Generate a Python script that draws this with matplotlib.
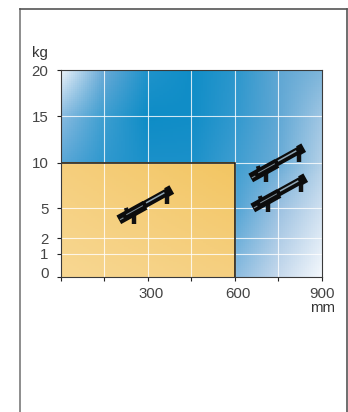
import numpy as np
import matplotlib
matplotlib.use("Agg")
import matplotlib.pyplot as plt
from matplotlib.colors import to_rgb
from matplotlib.lines import Line2D
from matplotlib.transforms import Affine2D, ScaledTranslation

plt.rcParams['font.family'] = ['Liberation Sans', 'DejaVu Sans']

W, H = 348, 412
# axis readings
x_ticks = [0, 150, 300, 450, 600, 750, 900]
x_labels = ['', '', '300', '', '600', '', '900']
y_ticks = [0, 1, 2, 5, 10, 15, 20]
y_labels = ['0', '1', '2', '5', '10', '15', '20']
y_frac = [0, 23.0 / 207, 38.7 / 207, 69 / 207, 114.5 / 207, 160.7 / 207, 1]  # the axis is not linear
limit_x, limit_y = 600, 10          # orange zone
rail_x = [291, 745, 752]
rail_y = [5.3, 9.9, 6.6]

# hand-read background tints
blue_rows = [
    ['#f0f6fb', '#6aa9d6', '#1f93cb', '#0f8dc7', '#2a96cc', '#5fa6d3', '#7db5da'],
    ['#8bbbe0', '#3d9ed0', '#0d8cc6', '#108dc7', '#3098ce', '#5fa7d4', '#a0c6e3'],
    ['#5aa6d6', '#2f98ce', '#1a90c9', '#1a90c9', '#3d9dd0', '#68abd6', '#b3d0e7'],
    ['#5aa6d6', '#2f98ce', '#1a90c9', '#2a96cc', '#4fa3d4', '#9ac0e0', '#cfe0f0'],
    ['#5aa6d6', '#3d9ed0', '#3d9ed0', '#5fa7d4', '#8bbbdf', '#c6d9ec', '#f4f8fc'],
]
blue_row_frac = [1, 160.7 / 207, 114.5 / 207, 69 / 207, 0]
orange_corners = [['#f5ce7c', '#f2c561'], ['#f7d792', '#f5cf80']]


def fwd(v):
    return np.interp(v, y_ticks, y_frac)


def inv(f):
    return np.interp(f, y_frac, y_ticks)


def field(rows, fx, fy_desc, xs, ys):
    """Bilinear resampling of a coarse colour table; fy_desc runs top to bottom."""
    table = np.array([[to_rgb(c) for c in r] for r in rows])
    fy = np.array(fy_desc)[::-1]
    table = table[::-1]
    out = np.zeros((len(ys), len(xs), 3))
    for k in range(3):
        by_x = np.array([np.interp(xs, fx, table[i, :, k]) for i in range(table.shape[0])])
        for j in range(len(xs)):
            out[:, j, k] = np.interp(ys, fy, by_x[:, j])
    return out


fig = plt.figure(figsize=(W / 100, H / 100), dpi=100)
ax = fig.add_axes([60.5 / W, 1 - 277 / H, 261.5 / W, 207 / H])
ax.set_yscale('function', functions=(fwd, inv))
ax.set_xlim(0, 900)
ax.set_ylim(0, 20)

# blue background
gx = np.linspace(0, 1, 132)
gy = np.linspace(0, 1, 105)
img = field(blue_rows, np.linspace(0, 1, 7), blue_row_frac, gx, gy)
ax.pcolormesh(gx * 900, inv(gy), img, shading='auto', zorder=1, rasterized=True)

# orange zone
ox = np.linspace(0, 1, 90)
oy = np.linspace(0, 1, 60)
oimg = field(orange_corners, [0, 1], [1, 0], ox, oy)
top_f = fwd(limit_y)
ax.pcolormesh(ox * limit_x, inv(oy * top_f), oimg, shading='auto', zorder=2, rasterized=True)

# grid
for xv in x_ticks[1:-1]:
    ax.plot([xv, xv], [0, 20], color='white', lw=0.8, alpha=0.8, zorder=3, solid_capstyle='butt')
for yv in y_ticks[1:-1]:
    ax.plot([0, 900], [yv, yv], color='white', lw=0.8, alpha=0.8, zorder=3, solid_capstyle='butt')

# zone outline
ax.plot([0, limit_x, limit_x], [limit_y, limit_y, 0], color='#111111', lw=1.1, zorder=4,
        solid_joinstyle='miter')

# rail pictograms, offsets in pixels around a data anchor
angle = np.radians(29)
ca, sa = np.cos(angle), np.sin(angle)


def uv(u, v):
    return u * ca - v * sa, u * sa + v * ca


for rx, ry in zip(rail_x, rail_y):
    tr = Affine2D() + ScaledTranslation(rx, ry, ax.transData)

    def seg(p, q, lw, col, cap='butt', z=6):
        ax.add_line(Line2D([p[0], q[0]], [p[1], q[1]], transform=tr, color=col, lw=lw,
                           solid_capstyle=cap, zorder=z, clip_on=False))

    # feet
    f1 = uv(-14, -2)
    seg(f1, (f1[0], f1[1] - 10), 3.2, '#111111', 'butt', 5)
    f2 = uv(25, -1)
    seg(f2, (f2[0], f2[1] - 10), 3.2, '#111111', 'butt', 5)
    # bump
    seg(uv(-19, 2), uv(-18, 7), 3.0, '#111111', 'butt', 5)
    # body
    seg(uv(-30, 0), uv(0, 0), 7.0, '#0c0c0c')
    seg(uv(-1, 0.8), uv(27, 0.8), 5.4, '#0c0c0c')
    seg(uv(25, 0.8), uv(31, 0.8), 7.0, '#0c0c0c')
    # highlights
    seg(uv(-29, -0.5), uv(-25, -0.5), 0.8, '#7d8a92', 'butt', 7)
    seg(uv(-21, 0.8), uv(-2, 0.8), 0.7, '#7f8d96', 'butt', 7)
    seg(uv(2, 1.6), uv(23, 1.6), 1.1, '#8fa6b5', 'butt', 7)

# axis styling
for s in ax.spines.values():
    s.set_color('#3a3a3a')
    s.set_linewidth(0.8)
    s.set_zorder(8)
ax.set_xticks(x_ticks)
ax.set_xticklabels(x_labels)
ax.set_yticks(y_ticks)
ax.set_yticklabels(y_labels)
ax.minorticks_off()
ax.tick_params(axis='both', direction='out', length=3.0, width=0.8, color='#222222',
               labelsize=10.8, labelcolor='#444444')
ax.tick_params(axis='x', pad=4.4)
ax.tick_params(axis='y', pad=5.6)

for lab, dx in zip(ax.get_xticklabels(), [0, 0, 3.5, 0, 3.5, 0, 0]):
    lab.set_transform(lab.get_transform() + Affine2D().translate(dx, 0))
for lab, dy in zip(ax.get_yticklabels(), [4.5, 0.5, 0, 0, 0, 0, 0]):
    lab.set_transform(lab.get_transform() + Affine2D().translate(0, dy))

fig.text(47.5 / W, 1 - 57 / H, 'kg', ha='right', va='baseline', fontsize=10.8, color='#333333')
fig.text(322.5 / W, 1 - 312 / H, 'mm', ha='center', va='baseline', fontsize=10.8, color='#333333')

# outer frame, open at the bottom
frame_l, frame_r, frame_t = 19.5 / W, 347 / W, 1 - 9 / H
fig.add_artist(Line2D([frame_l, frame_l], [0, frame_t], color='#7a7a7a', lw=1.2,
                      transform=fig.transFigure))
fig.add_artist(Line2D([frame_l, frame_r], [frame_t, frame_t], color='#555555', lw=1.2,
                      transform=fig.transFigure))
fig.add_artist(Line2D([frame_r, frame_r], [0, frame_t], color='#555555', lw=1.2,
                      transform=fig.transFigure))

fig.savefig('out.png', dpi=100)
